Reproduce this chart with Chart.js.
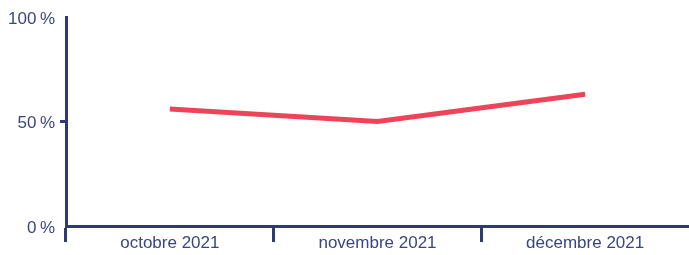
<!DOCTYPE html>
<html>
<head>
<meta charset="utf-8">
<script src="https://cdn.jsdelivr.net/npm/chart.js@4/dist/chart.umd.min.js"></script>
<style>
  html, body { margin: 0; padding: 0; background: #fff; }
  #wrap { width: 689px; height: 255px; }
</style>
</head>
<body>
<div id="wrap"><canvas id="myChart"></canvas></div>
<script>
    const mois = ['octobre 2021', 'novembre 2021', 'décembre 2021'];
    const valeurs = [56, 50, 63];
    const yTicks = [0, 50, 100];

    const navy = '#2e3a78';
    const rouge = '#ee4459';

    Chart.defaults.font.family = '"Liberation Sans Narrow", "Liberation Sans", sans-serif';
    Chart.defaults.font.size = 17;
    Chart.defaults.color = '#3a4680';

    var ctx = document.getElementById('myChart').getContext('2d');
    new Chart(ctx, {
        type: 'line',
        data: {
            labels: mois,
            datasets: [{
                data: valeurs,
                borderColor: rouge,
                borderWidth: 5,
                borderCapStyle: 'butt',
                pointRadius: 0,
                tension: 0,
                fill: false
            }]
        },
        options: {
            responsive: true,
            maintainAspectRatio: false,
            animation: false,
            layout: { padding: { top: 17, right: 0, left: 0, bottom: 0 } },
            plugins: { legend: { display: false }, tooltip: { enabled: false } },
            scales: {
                x: {
                    offset: true,
                    grid: {
                        offset: true,
                        drawOnChartArea: false,
                        tickLength: 16,
                        tickWidth: 3,
                        // pas de trait au bout droit (ligne en plus = contexte "scale")
                        color: (c) => c.type === 'tick' ? navy : 'rgba(0,0,0,0)'
                    },
                    border: { color: navy, width: 3 },
                    ticks: { padding: -9, maxRotation: 0 },
                    afterFit: (axis) => { axis.height = 29; }
                },
                y: {
                    min: 0,
                    max: 100,
                    afterBuildTicks: (axis) => { axis.ticks = yTicks.map(v => ({ value: v })); },
                    grid: {
                        drawOnChartArea: false,
                        tickLength: 6,
                        tickWidth: 3,
                        color: (c) => c.tick && c.tick.value === 50 ? navy : 'rgba(0,0,0,0)'
                    },
                    border: { color: navy, width: 3 },
                    ticks: {
                        padding: 5,
                        labelOffset: 2,
                        callback: (v) => v + '\u202f%'
                    },
                    afterFit: (axis) => { axis.width = 66; }
                }
            }
        }
    });
</script>
</body>
</html>
